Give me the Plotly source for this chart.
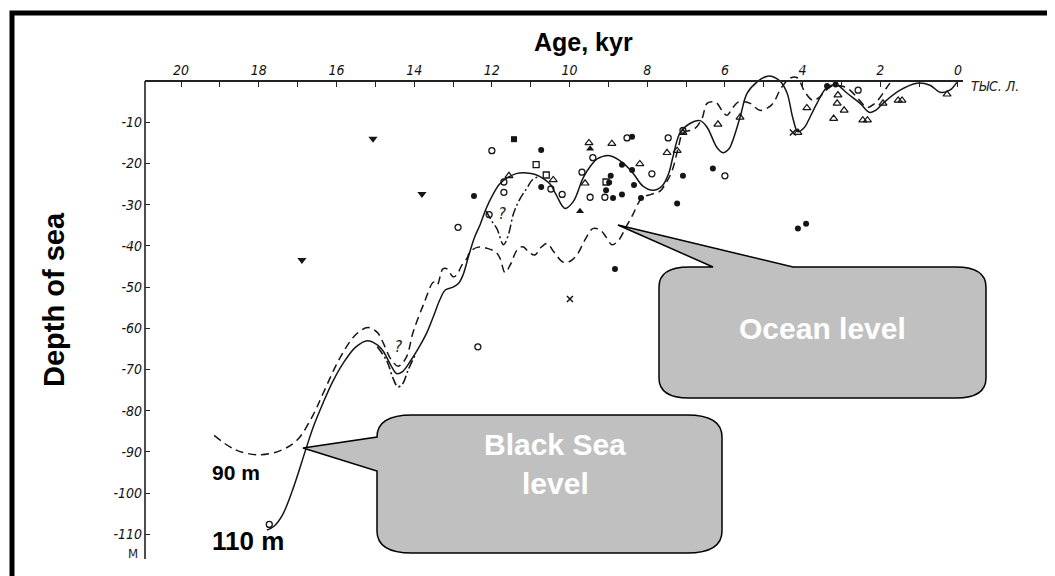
import plotly.graph_objects as go

# ---------------- data (age in kyr BP, depth in m) ----------------
ocean_age = [19.15, 18.6, 17.97, 17.4, 17.0, 16.6, 16.34, 15.9, 15.5, 15.19, 14.95, 14.8, 14.6, 14.41,
             14.2, 14.03, 13.75, 13.5, 13.41, 13.26, 13.15, 13.0, 12.9, 12.78, 12.64, 12.56, 12.35,
             12.12, 11.9, 11.79, 11.66, 11.52, 11.35, 11.2, 11.05, 10.89, 10.75, 10.58, 10.4, 10.17,
             10.0, 9.81, 9.6, 9.4, 9.2, 9.05, 8.91, 8.75, 8.55, 8.37, 8.14, 7.9, 7.67, 7.5, 7.36,
             7.2, 7.08, 6.9, 6.77, 6.59, 6.46, 6.3, 6.2, 6.05, 5.95, 5.8, 5.66, 5.5, 5.35, 5.1, 4.9,
             4.76, 4.6, 4.5, 4.3, 4.14, 4.05, 3.95, 3.73, 3.55, 3.47, 3.3, 3.17, 2.95, 2.78, 2.55,
             2.34, 2.15, 2.0, 1.85, 1.75]
ocean_depth = [-86.0, -89.5, -90.7, -89.5, -87.0, -81.0, -75.7, -67.0, -61.5, -59.8, -61.0, -63.5, -67.5, -69.2,
               -67.0, -61.0, -54.0, -48.8, -49.5, -45.6, -45.6, -47.5, -47.0, -44.8, -43.0, -41.4, -40.3,
               -40.6, -41.5, -43.0, -46.5, -44.5, -41.0, -40.2, -41.5, -42.2, -40.5, -39.4, -41.5, -43.9,
               -43.8, -42.2, -38.5, -35.8, -36.2, -38.0, -39.7, -38.8, -35.5, -32.4, -28.4, -27.5, -26.7, -24.5, -21.8,
               -16.2, -12.5, -12.0, -11.5, -9.1, -5.4, -5.0, -5.4, -7.5, -8.3, -6.5, -5.1, -5.0, -5.4, -7.1, -6.5,
               -5.4, -2.5, -1.0, 0.8, 0.8, -0.5, -2.5, -4.7, -3.8, -2.9, -1.5, -1.0, -1.3, -2.2, -4.5,
               -6.4, -5.5, -3.9, -1.8, -0.5]

black_age = [17.79, 17.6, 17.4, 17.14, 16.8, 16.6, 16.34, 16.1, 15.83, 15.5, 15.2, 14.95, 14.8, 14.6, 14.45,
             14.3, 14.1, 13.9, 13.67, 13.5, 13.33, 13.2, 13.0, 12.85, 12.74, 12.6, 12.45, 12.3, 12.15, 11.97,
             11.8, 11.61, 11.35, 11.1, 10.9, 10.76, 10.5, 10.35, 10.12, 9.9, 9.65, 9.45, 9.29, 8.96, 8.62,
             8.37, 8.11, 7.85, 7.62, 7.45, 7.34, 7.16, 6.9, 6.64, 6.46, 6.2, 6.05, 5.9, 5.82, 5.61, 5.43,
             5.17, 4.9, 4.58, 4.4, 4.25, 4.12, 3.95, 3.89, 3.63, 3.37, 3.11, 2.86, 2.52, 2.27, 2.1, 1.93,
             1.49, 1.06, 0.72, 0.46, 0.21, 0.03]
black_depth = [-109.0, -108.0, -105.5, -99.5, -89.7, -84.0, -78.0, -73.0, -68.5, -64.5, -63.0, -64.0, -65.5, -69.0, -71.0,
               -70.5, -68.0, -65.0, -61.0, -57.0, -52.9, -50.7, -50.0, -49.0, -47.0, -42.5, -38.0, -34.8, -31.0, -27.5,
               -25.0, -23.5, -22.4, -22.3, -22.6, -23.2, -25.0, -27.5, -30.9, -29.2, -23.5, -20.5, -18.9, -18.1, -19.9,
               -22.3, -25.5, -26.5, -25.5, -22.5, -18.5, -12.7, -10.3, -9.6, -11.2, -16.2, -17.4, -16.5, -15.0, -8.8, -3.0,
               -0.2, 1.2, 0.0, -2.9, -9.0, -12.3, -11.2, -10.3, -5.4, -1.5, -1.0, -2.9, -5.4, -7.6, -7.0, -5.4,
               -2.2, -0.5, -1.0, -2.7, -2.2, -0.3]

dashdot1_age = [14.95, 14.7, 14.55, 14.42, 14.3, 14.15, 13.95]
dashdot1_depth = [-64.5, -68.0, -72.0, -74.2, -73.5, -70.0, -66.0]

dashdot2_age = [12.15, 12.0, 11.87, 11.7, 11.58, 11.45, 11.3, 11.1, 10.94, 10.76]
dashdot2_depth = [-31.5, -34.0, -35.8, -39.7, -37.5, -32.4, -29.0, -26.0, -23.8, -23.2]

oc_age = [12.0, 11.69, 11.69, 12.87, 12.07, 12.36, 17.73, 10.48, 10.19, 9.47, 9.09, 9.68, 9.4, 8.52,
          7.46, 7.88, 6.0, 7.08, 2.57]
oc_depth = [-16.9, -24.5, -27.0, -35.5, -32.4, -64.5, -107.6, -26.2, -27.5, -28.2, -28.2, -22.1, -18.6, -13.8,
            -13.8, -22.5, -23.0, -12.0, -2.2]

fc_age = [10.73, 12.46, 10.73, 8.94, 8.98, 9.06, 8.88, 8.65, 8.65, 8.39, 8.34, 8.16, 7.23, 8.83, 8.39,
          7.08, 6.31, 4.12, 3.91, 3.37, 3.15]
fc_depth = [-16.7, -27.9, -25.7, -23.0, -24.6, -26.5, -28.4, -27.5, -20.3, -21.6, -25.2, -28.4, -29.7, -45.6, -13.5,
            -23.0, -21.2, -35.8, -34.6, -1.2, -0.8]

ot_age = [11.56, 10.42, 9.6, 9.5, 8.91, 8.19, 7.49, 7.23, 7.08, 6.18, 5.61, 4.12, 3.89, 3.09, 3.11, 2.93,
          3.2, 2.45, 2.33, 1.93, 1.54, 1.44, 0.28]
ot_depth = [-23.0, -24.0, -24.8, -15.0, -15.2, -20.1, -17.4, -16.9, -12.5, -10.5, -8.8, -12.5, -6.5, -3.4, -5.4, -7.1,
            -9.1, -9.5, -9.5, -5.4, -4.7, -4.7, -3.2]

ft_age = [9.73, 9.47]
ft_depth = [-31.6, -16.4]

os_age = [10.86, 10.6, 9.06]
os_depth = [-20.3, -22.8, -24.5]

fs_age = [11.43]
fs_depth = [-14.1]

dt_age = [15.06, 13.8, 16.89]
dt_depth = [-14.0, -27.4, -43.4]

x_age = [9.99, 4.25]
x_depth = [-52.9, -12.5]

q_age = [14.41, 11.74]
q_depth = [-64.7, -32.4]

x_tick_vals = list(range(0, 21))
x_tick_text = [str(v) if v % 2 == 0 else "" for v in x_tick_vals]
y_tick_vals = [-10, -20, -30, -40, -50, -60, -70, -80, -90, -100, -110]
y_tick_text = ["-10", "-20", "-30", "-40", "-50", "-60", "-70", "-80", "-90", "-100", "-110"]

# ---------------- layout geometry ----------------
OFF = 8                      # page body margin of the browser
W, H = 1055 - OFF, 576 - OFF
ML, MT = 145 - OFF, 69 - OFF
MR = W - (963 - OFF)
MB = H - (559 - OFF)
PW, PH = W - ML - MR, H - MT - MB
PX_PER_M = 4.12
Y_MIN = -116.0
Y_MAX = Y_MIN + PH / PX_PER_M
X_LEFT, X_RIGHT = 20.93, -0.13


def P(px, py):
    # screen pixel -> paper coordinates
    return (px - OFF - ML) / PW, (H - MB - (py - OFF)) / PH


def path(cmds):
    out = []
    for cmd in cmds:
        if cmd == "Z":
            out.append("Z")
            continue
        c, pts = cmd[0], cmd[1:]
        coords = []
        for (px, py) in pts:
            x, y = P(px, py)
            coords.append(f"{x:.5f},{y:.5f}")
        out.append(c + " " + " ".join(coords))
    return " ".join(out)


ink = "#151515"
NARROW = "Liberation Sans Narrow, DejaVu Sans Condensed, Arial Narrow, Liberation Sans"
TICKFONT = dict(family=NARROW, size=14, color="#111", style="italic")

fig = go.Figure()

fig.add_trace(go.Scatter(x=ocean_age, y=ocean_depth, mode="lines",
                         line=dict(color=ink, width=1.5, dash="8px,5px", shape="spline"), hoverinfo="skip"))
fig.add_trace(go.Scatter(x=black_age, y=black_depth, mode="lines",
                         line=dict(color=ink, width=1.5, shape="spline"), hoverinfo="skip"))
fig.add_trace(go.Scatter(x=dashdot1_age, y=dashdot1_depth, mode="lines",
                         line=dict(color=ink, width=1.6, dash="9px,3px,2px,3px", shape="spline"), hoverinfo="skip"))
fig.add_trace(go.Scatter(x=dashdot2_age, y=dashdot2_depth, mode="lines",
                         line=dict(color=ink, width=1.5, dash="9px,3px,2px,3px", shape="spline"), hoverinfo="skip"))

mk = [
    (oc_age, oc_depth, "circle-open", 6, 1.3),
    (fc_age, fc_depth, "circle", 6, 0),
    (ot_age, ot_depth, "triangle-up-open", 7, 1.2),
    (ft_age, ft_depth, "triangle-up", 7, 0),
    (os_age, os_depth, "square-open", 6, 1.3),
    (fs_age, fs_depth, "square", 6, 0),
    (dt_age, dt_depth, "triangle-down", 8, 0),
    (x_age, x_depth, "x-thin-open", 6, 1.5),
]
for ax, ay, sym, sz, lw in mk:
    fig.add_trace(go.Scatter(x=ax, y=ay, mode="markers",
                             marker=dict(symbol=sym, size=sz, color=ink, line=dict(color=ink, width=lw)),
                             hoverinfo="skip"))

fig.add_trace(go.Scatter(x=q_age, y=q_depth, mode="text", text=["?"] * len(q_age),
                         textfont=dict(family=NARROW, size=16, color="#222", style="italic"), hoverinfo="skip"))

shapes = []
# outer frame
fx0, fy0 = P(12, 13)
fx1, fy1 = P(1050, 600)
shapes.append(dict(type="rect", xref="paper", yref="paper", x0=fx0, y0=fy1, x1=fx1, y1=fy0,
                   line=dict(color="black", width=5), fillcolor="rgba(0,0,0,0)", layer="above"))
# left axis line (from 0 down)
shapes.append(dict(type="line", xref="paper", yref="y", x0=0, x1=0, y0=Y_MIN, y1=0,
                   line=dict(color="#222", width=1.6)))

# Ocean level callout
L, R, T, B, rx, ry = 659, 986, 267, 398, 30, 20
ocean_path = path([
    ("M", (L, T + ry)), ("Q", (L, T), (L + rx, T)), ("L", (713, T)), ("L", (618, 225)), ("L", (793, T)),
    ("L", (R - rx, T)), ("Q", (R, T), (R, T + ry)), ("L", (R, B - ry)), ("Q", (R, B), (R - rx, B)),
    ("L", (L + rx, B)), ("Q", (L, B), (L, B - ry)), "Z"])
shapes.append(dict(type="path", xref="paper", yref="paper", path=ocean_path,
                   fillcolor="#c0c0c0", line=dict(color="black", width=1.5)))

# Black Sea level callout
L, R, T, B, rx, ry = 377, 722, 415, 553, 35, 22
bs_path = path([
    ("M", (L + rx, T)), ("L", (R - rx, T)), ("Q", (R, T), (R, T + ry)), ("L", (R, B - ry)),
    ("Q", (R, B), (R - rx, B)), ("L", (L + rx, B)), ("Q", (L, B), (L, B - ry)), ("L", (L, 471)),
    ("L", (303, 448)), ("L", (L, 437)), ("Q", (L, T), (L + rx, T)), "Z"])
shapes.append(dict(type="path", xref="paper", yref="paper", path=bs_path,
                   fillcolor="#c0c0c0", line=dict(color="black", width=1.5)))

ann = []


def text_at(px, py, s, size, color="black", bold=True, family="Liberation Sans, Arial", angle=0, style="normal"):
    x, y = P(px, py)
    ann.append(dict(x=x, y=y, xref="paper", yref="paper", text=s, showarrow=False, textangle=angle,
                    xanchor="center", yanchor="middle",
                    font=dict(family=family, size=size, color=color, weight="bold" if bold else "normal",
                              style=style)))


text_at(583, 42, "Age, kyr", 25)
text_at(54, 300, "Depth of sea", 29, angle=-90)
text_at(822, 328, "Ocean level", 30, color="white")
text_at(555, 444, "Black Sea", 30, color="white")
text_at(555, 484, "level", 30, color="white")
text_at(236, 472, "90 m", 21)
text_at(248, 541, "110 m", 26)
text_at(995, 86, "ТЫС. Л.", 14, color="#222", bold=False, family=NARROW, style="italic")
text_at(133, 553, "М", 13, color="#222", bold=False, family=NARROW)

fig.update_layout(
    width=W, height=H, margin=dict(l=ML, r=MR, t=MT, b=MB, pad=0),
    paper_bgcolor="white", plot_bgcolor="white", showlegend=False,
    shapes=shapes, annotations=ann,
    xaxis=dict(range=[X_LEFT, X_RIGHT], side="top", anchor="free",
               position=(0 - Y_MIN) / (Y_MAX - Y_MIN),
               showline=True, linecolor="#222", linewidth=1.6, showgrid=False, zeroline=False,
               tickvals=x_tick_vals, ticktext=x_tick_text, ticks="inside", ticklen=5, tickwidth=1.3,
               tickcolor="#222", tickfont=TICKFONT),
    yaxis=dict(range=[Y_MIN, Y_MAX], showline=False, showgrid=False, zeroline=False,
               tickvals=y_tick_vals, ticktext=y_tick_text, ticks="inside", ticklen=5, tickwidth=1.3,
               tickcolor="#222", tickfont=TICKFONT, ticklabelstandoff=2),
)

fig.write_html("out.html")
